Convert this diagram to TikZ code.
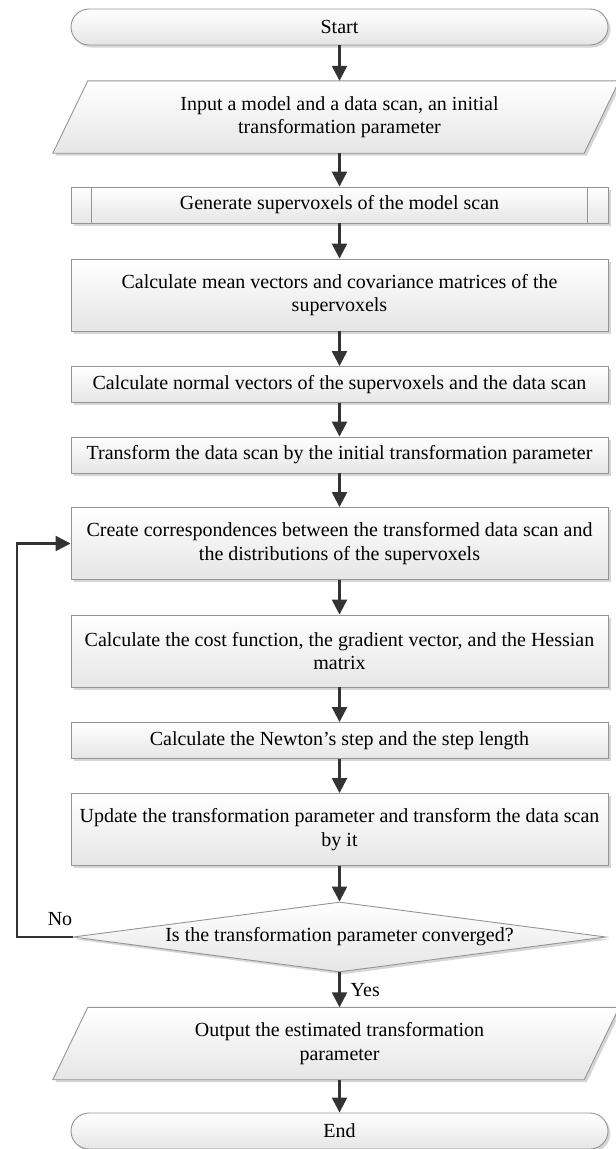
\documentclass[tikz,border=0pt]{standalone}
\usepackage{fontspec}
\setmainfont{Liberation Serif}
\usetikzlibrary{shapes.geometric,arrows.meta,shadows,backgrounds}

\begin{document}
\begin{tikzpicture}[x=1pt,y=1pt,
    font=\fontsize{20}{23.5}\selectfont,
    look/.style={draw=black!42, line width=0.9pt, top color=white, bottom color=gray!20,
      drop shadow={shadow xshift=2.5pt, shadow yshift=-2.5pt, fill=gray!40, opacity=0.8}},
    proc/.style={look, minimum width=537, minimum height=36, align=center, inner sep=2pt},
    proctwo/.style={proc, minimum height=72},
    term/.style={proc, rounded corners=18},
    io/.style={minimum width=531, minimum height=72, align=center, inner sep=0pt},
    decision/.style={look, diamond, aspect=7.6, minimum width=533, minimum height=70, inner sep=0pt},
    flow/.style={draw=black!80, line width=2.4pt, -{Triangle[length=15pt,width=15pt]}}]
  \useasboundingbox (0,0) rectangle (616,-1149);

  % Nodes of the flowchart
  \node[term]     (start)  at (339.5,-27)    {Start};
  \node[io]       (input)  at (339.5,-117)   {Input a model and a data scan, an initial\\transformation parameter};
  \node[proc]     (gen)    at (339.5,-205)   {Generate supervoxels of the model scan};
  \node[proctwo]  (mean)   at (339.5,-295)   {Calculate mean vectors and covariance matrices of the\\supervoxels};
  \node[proc]     (normal) at (339.5,-384.5) {Calculate normal vectors of the supervoxels and the data scan};
  \node[proc]     (trans)  at (339.5,-455)   {Transform the data scan by the initial transformation parameter};
  \node[proctwo]  (create) at (339.5,-543.5) {Create correspondences between the transformed data scan and\\the distributions of the supervoxels};
  \node[proctwo]  (cost)   at (339.5,-651)   {Calculate the cost function, the gradient vector, and the Hessian\\matrix};
  \node[proc]     (newton) at (339.5,-740.5) {Calculate the Newton's step and the step length};
  \node[proctwo]  (update) at (339.5,-829.5) {Update the transformation parameter and transform the data scan\\by it};
  \node[decision] (dec)    at (339.5,-937)   {Is the transformation parameter converged?};
  \node[io]       (output) at (339.5,-1043.5) {Output the estimated transformation\\parameter};
  \node[term]     (end)    at (339.5,-1131)  {End};

  % Parallelograms for input and output
  \begin{scope}[on background layer]
    \foreach \n in {input,output}
      \path[look] ([xshift=14]\n.north west) -- ([xshift=14]\n.north east)
        -- ([xshift=-21]\n.south east) -- ([xshift=-21]\n.south west) -- cycle;
  \end{scope}

  % Side bars of the predefined process
  \draw[black!42, line width=0.9pt] ([xshift=21]gen.north west) -- ([xshift=21]gen.south west);
  \draw[black!42, line width=0.9pt] ([xshift=-21]gen.north east) -- ([xshift=-21]gen.south east);

  % Main flow
  \foreach \a/\b in {start/input, input/gen, gen/mean, mean/normal, normal/trans,
                     trans/create, create/cost, cost/newton, newton/update, update/dec, output/end}
    \draw[flow] (\a) -- (\b);
  \draw[flow] (dec) -- node[right, inner sep=1pt, xshift=9pt] (yes) {Yes} (output);

  % Loop back when not converged
  \coordinate (back) at (17,-543.5);
  \draw[flow] (dec.west) -| (back) -- (create.west);
  \node (no) at (60,-919) {No};
\end{tikzpicture}
\end{document}
